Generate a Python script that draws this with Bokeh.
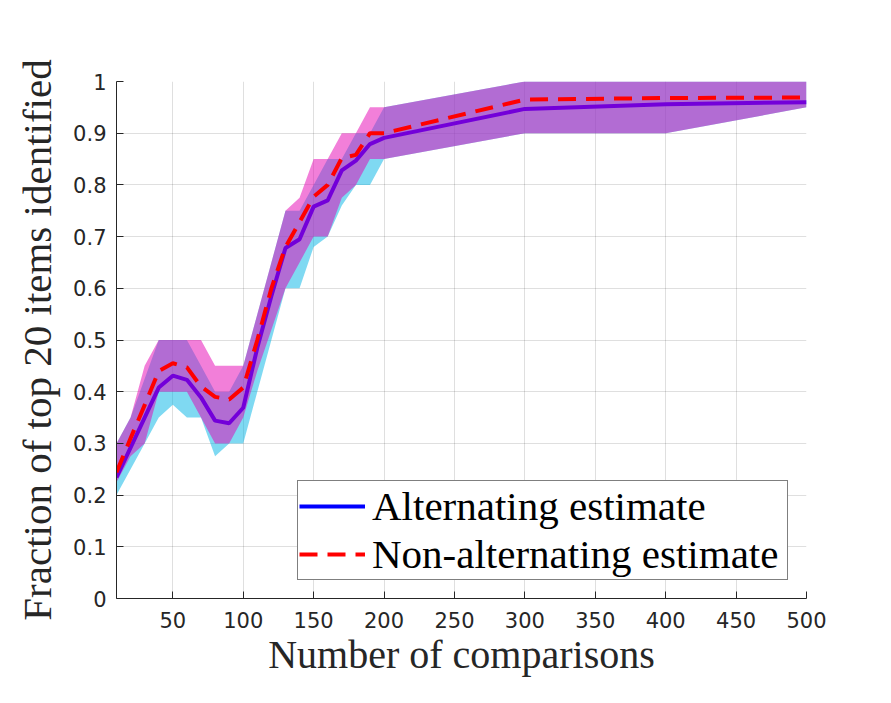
from bokeh.plotting import figure
from bokeh.models import Range1d, FixedTicker, CustomJSTickFormatter, Legend, LegendItem
from bokeh.embed import file_html
from bokeh.resources import INLINE

# number of comparisons
x = [10, 20, 30, 40, 50, 60, 70, 80, 90, 100, 110, 120, 130, 140, 150,
     160, 170, 180, 190, 200, 300, 400, 500]

# Alternating estimate (mean and band)
alt_mean = [0.234, 0.292, 0.350, 0.408, 0.431, 0.423, 0.389, 0.344, 0.339, 0.369,
            0.485, 0.585, 0.678, 0.695, 0.758, 0.770, 0.828, 0.847, 0.879, 0.891,
            0.947, 0.956, 0.960]
alt_lo = [0.200, 0.250, 0.300, 0.350, 0.375, 0.350, 0.350, 0.275, 0.300, 0.300,
          0.400, 0.500, 0.600, 0.600, 0.680, 0.700, 0.760, 0.800, 0.800, 0.850,
          0.900, 0.900, 0.950]
alt_hi = [0.300, 0.350, 0.425, 0.500, 0.500, 0.500, 0.450, 0.400, 0.400, 0.450,
          0.550, 0.650, 0.750, 0.750, 0.800, 0.850, 0.850, 0.900, 0.900, 0.950,
          1.000, 1.000, 1.000]

# Non-alternating estimate (mean and band)
non_mean = [0.244, 0.310, 0.374, 0.440, 0.455, 0.447, 0.410, 0.390, 0.385, 0.408,
            0.500, 0.600, 0.680, 0.728, 0.777, 0.800, 0.852, 0.858, 0.900, 0.900,
            0.965, 0.968, 0.969]
non_lo = [0.225, 0.275, 0.300, 0.400, 0.400, 0.400, 0.350, 0.300, 0.300, 0.350,
          0.440, 0.520, 0.600, 0.650, 0.700, 0.700, 0.775, 0.800, 0.850, 0.850,
          0.900, 0.900, 0.950]
non_hi = [0.300, 0.350, 0.450, 0.500, 0.500, 0.500, 0.500, 0.450, 0.450, 0.450,
          0.550, 0.650, 0.750, 0.775, 0.850, 0.850, 0.900, 0.900, 0.950, 0.950,
          1.000, 1.000, 1.000]

x_ticks = [50, 100, 150, 200, 250, 300, 350, 400, 450, 500]
y_ticks = [0, 0.1, 0.2, 0.3, 0.4, 0.5, 0.6, 0.7, 0.8, 0.9, 1]

series_labels = ["Alternating estimate", "Non-alternating estimate"]
x_label = "Number of comparisons"
y_label = "Fraction of top 20 items identified"

TXT = "#262626"
SERIF = "Liberation Serif"
SANS = "DejaVu Sans"

p = figure(width=883, height=695, output_backend="svg", toolbar_location=None,
           x_range=Range1d(10, 500), y_range=Range1d(0, 1),
           min_border_left=116, min_border_right=77,
           min_border_top=81, min_border_bottom=97)
p.outline_line_color = None
p.background_fill_color = "white"
p.border_fill_color = "white"

p.varea(x=x, y1=alt_lo, y2=alt_hi, fill_color="#00b3e6", fill_alpha=0.5)
r1 = p.line(x, alt_mean, line_color="#0000ff", line_width=4)
p.varea(x=x, y1=non_lo, y2=non_hi, fill_color="#e600b3", fill_alpha=0.5)
r2 = p.line(x, non_mean, line_color="#ff0000", line_width=4, line_dash="18 10")

p.xaxis.ticker = FixedTicker(ticks=x_ticks)
p.yaxis.ticker = FixedTicker(ticks=y_ticks)
p.yaxis.formatter = CustomJSTickFormatter(code="return (Math.round(tick*10)/10).toString();")

for ax in (p.xaxis, p.yaxis):
    ax.axis_line_color = TXT
    ax.axis_line_width = 1
    ax.major_tick_line_color = TXT
    ax.major_tick_in = 7
    ax.major_tick_out = 0
    ax.minor_tick_line_color = None
    ax.major_label_text_font = SANS
    ax.major_label_text_font_size = "21px"
    ax.major_label_text_color = TXT
    ax.axis_label_text_font = SERIF
    ax.axis_label_text_font_style = "normal"
    ax.axis_label_text_color = TXT

p.xaxis.axis_label_text_font_size = "40px"
p.yaxis.axis_label_text_font_size = "41px"
p.xaxis.axis_label = x_label
p.yaxis.axis_label = y_label
p.xaxis.major_label_standoff = 13
p.yaxis.major_label_standoff = 10
p.xaxis.axis_label_standoff = 1
p.yaxis.axis_label_standoff = 10

p.grid.grid_line_color = TXT
p.grid.grid_line_alpha = 0.15
p.grid.grid_line_width = 1

legend = Legend(items=[LegendItem(label=series_labels[0], renderers=[r1]),
                       LegendItem(label=series_labels[1], renderers=[r2])],
                location="bottom_right")
legend.margin = 18
legend.padding = 1
legend.spacing = 0
legend.glyph_width = 66
legend.glyph_height = 40
legend.label_standoff = 7
legend.label_width = 414
legend.label_text_font = SERIF
legend.label_text_font_size = "41px"
legend.label_text_color = "black"
legend.border_line_color = "black"
legend.border_line_width = 1
legend.background_fill_color = "white"
legend.background_fill_alpha = 1
p.add_layout(legend)

open("out.html", "w").write(file_html(p, INLINE))
